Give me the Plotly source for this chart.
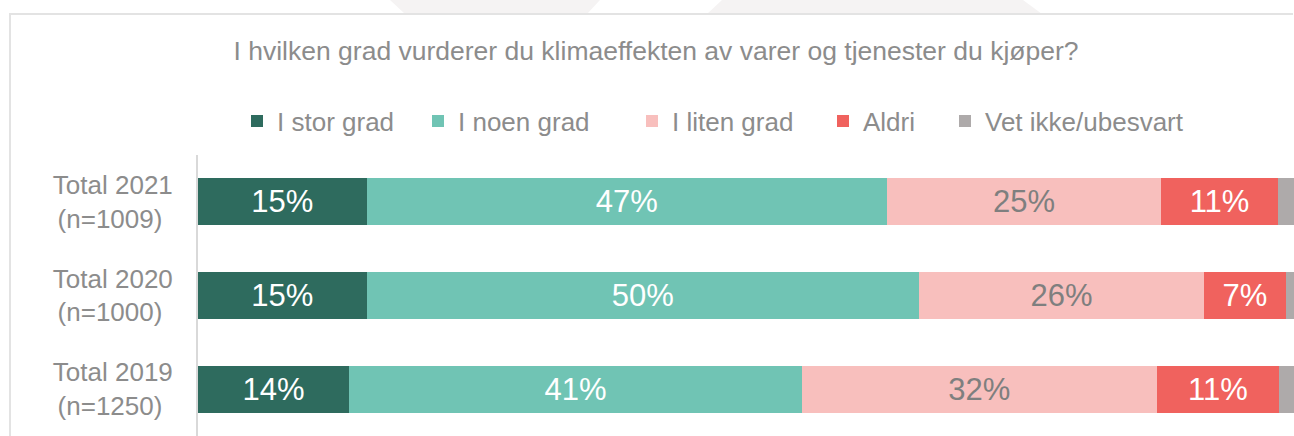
import plotly.graph_objects as go

category_years = ["Total 2021", "Total 2020", "Total 2019"]
category_n = ["(n=1009)", "(n=1000)", "(n=1250)"]
series_names = ["I stor grad", "I noen grad", "I liten grad", "Aldri", "Vet ikke/ubesvart"]
i_stor_grad = [15.3, 15.3, 13.7]
i_noen_grad = [47.2, 50.1, 41.1]
i_liten_grad = [24.9, 25.9, 32.2]
aldri = [10.6, 7.4, 11.1]
vet_ikke = [2.0, 1.3, 1.9]
title_text = "I hvilken grad vurderer du klimaeffekten av varer og tjenester du kjøper?"

# two-line category labels; thin spaces roughly centre the shorter second line
categories = [f"{a}<br>{b}\u2009\u2009" for a, b in zip(category_years, category_n)]

values = [i_stor_grad, i_noen_grad, i_liten_grad, aldri, vet_ikke]
colors = ["#2e6b5e", "#70c4b4", "#f8bfbd", "#f0625e", "#aeaaaa"]
text_colors = ["#ffffff", "#ffffff", "#7f7f7f", "#ffffff", "#ffffff"]
show_labels = [True, True, True, True, False]
legend_text_x = [277, 458, 672, 863, 985]  # pixel x of each legend entry's text

W, H = 1294, 436
L, T = 198, 155
PW, PH = W - L, H - T
FONT = "Liberation Sans, Arial, sans-serif"
GRAY = "#8c8c8c"

def px(x):
    return (x - L) / PW

def py(y):
    return (H - y) / PH

fig = go.Figure()
legend_ids = ["legend", "legend2", "legend3", "legend4", "legend5"]
for name, vals, col, tcol, lab, lid in zip(series_names, values, colors, text_colors, show_labels, legend_ids):
    fig.add_trace(go.Bar(
        name=name,
        y=categories,
        x=vals,
        orientation="h",
        legend=lid,
        marker=dict(color=col, line=dict(width=0)),
        text=[f"{round(v)}%" for v in vals] if lab else None,
        textposition="inside" if lab else "none",
        insidetextanchor="middle",
        textfont=dict(color=tcol, size=31, family=FONT),
        hoverinfo="x+name",
    ))

shapes = [
    dict(type="path", xref="paper", yref="paper",
         path=f"M {px(390)} {py(0)} L {px(600)} {py(0)} L {px(587)} {py(14)} L {px(405)} {py(14)} Z",
         fillcolor="#f5f3f3", line=dict(width=0), layer="below"),
    dict(type="path", xref="paper", yref="paper",
         path=f"M {px(722)} {py(0)} L {px(1023)} {py(0)} L {px(1042)} {py(14)} L {px(707)} {py(14)} Z",
         fillcolor="#f5f3f3", line=dict(width=0), layer="below"),
    dict(type="line", xref="paper", yref="paper", x0=px(9), x1=px(1293), y0=py(14), y1=py(14),
         line=dict(color="#e3e3e3", width=2)),
    dict(type="line", xref="paper", yref="paper", x0=px(10), x1=px(10), y0=py(14), y1=py(437),
         line=dict(color="#e3e3e3", width=2)),
]

legend_layout = {}
for lid, tx in zip(legend_ids, legend_text_x):
    legend_layout[lid] = dict(
        orientation="h", x=(tx - 40) / W, xanchor="left", xref="container",
        y=1 - 121 / H, yanchor="middle", yref="container",
        font=dict(size=26, color=GRAY, family=FONT),
        itemclick=False, itemdoubleclick=False, borderwidth=0,
        bgcolor="rgba(0,0,0,0)",
    )

fig.update_layout(
    width=W, height=H,
    margin=dict(l=L, r=0, t=T, b=0, pad=0),
    paper_bgcolor="white", plot_bgcolor="white",
    barmode="stack",
    bargap=0.497,
    showlegend=True,
    font=dict(family=FONT, color=GRAY),
    title=dict(text=title_text, x=656 / W, xanchor="center", xref="container",
               y=1 - 51 / H, yanchor="middle", yref="container",
               font=dict(size=26.5, color=GRAY, family=FONT)),
    uniformtext=dict(mode=False),
    shapes=shapes,
    xaxis=dict(range=[0, PW / 11.02], showgrid=False, zeroline=False, showticklabels=False,
               showline=False, fixedrange=True),
    yaxis=dict(autorange="reversed", showgrid=False, zeroline=False, showline=True,
               linecolor="#d9d9d9", linewidth=2, ticks="", ticklabelstandoff=18,
               tickfont=dict(size=26, color=GRAY, family=FONT)),
    **legend_layout,
)

fig.write_html("out.html", config={"displayModeBar": False},
               post_script="document.body.style.margin='0px';")
